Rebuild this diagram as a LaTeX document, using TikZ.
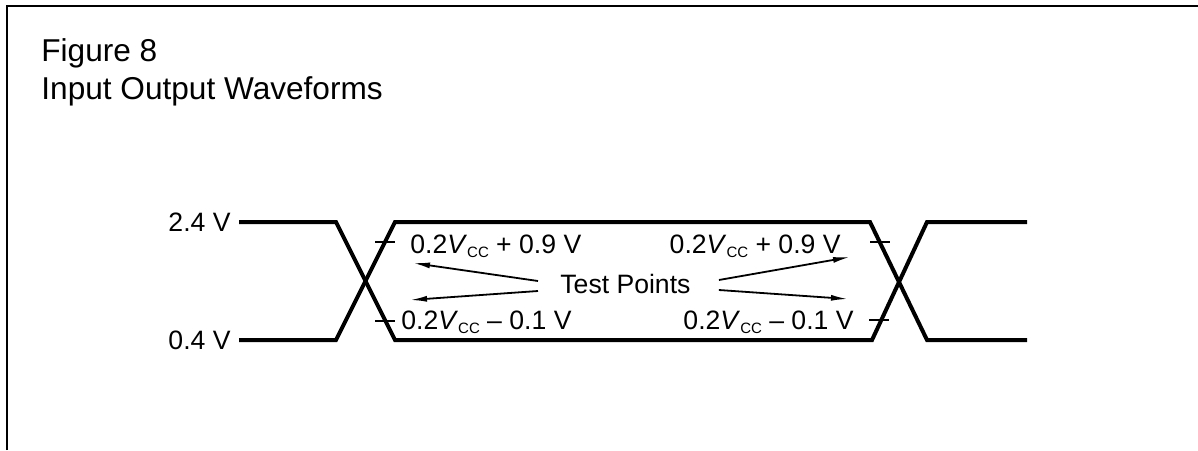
\documentclass[tikz,border=0pt]{standalone}
\usepackage{fontspec}
\setmainfont{Liberation Sans}
\usetikzlibrary{arrows.meta}
\newcommand{\vcc}{\textit{V}\raisebox{-0.3ex}{\fontsize{7.5}{9}\selectfont CC}}
\tikzset{
  wave/.style={line width=2pt},
  tickmark/.style={line width=1pt},
  testarrow/.style={line width=0.9pt,-{Latex[length=8.5pt,width=3pt]}},
  lbl/.style={inner sep=0pt,font=\fontsize{13.3}{16}\selectfont},
  ttl/.style={inner sep=0pt,anchor=base west,font=\fontsize{15.8}{19}\selectfont},
}
\begin{document}
\begin{tikzpicture}[x=0.5pt,y=-0.5pt]
\useasboundingbox (0,0) rectangle (1198,450);
\draw[line width=1.2pt] (7,450) -- (7,6) -- (1198,6);%
\node[ttl] (fig) at (41,61) {Figure 8};%
\node[ttl] (title) at (41,99) {Input Output Waveforms};%
\begin{scope}[wave]
\draw (239,222) -- (336,222) -- (395,340) -- (872,340) -- (927,222) -- (1027,222);%
\draw (239,340) -- (336,340) -- (395,222) -- (870,222) -- (927,340) -- (1027,340);%
\end{scope}
\draw[tickmark] (375,242) -- (395,242);%
\draw[tickmark] (375,321) -- (395,321);%
\draw[tickmark] (870,242) -- (890,242);%
\draw[tickmark] (869,320) -- (889,320);%
\node[lbl,anchor=east] (vhi) at (231,222) {2.4 V};%
\node[lbl,anchor=east] (vlo) at (231,340) {0.4 V};%
\node[lbl,anchor=base west] (lhi) at (410,253) {0.2\vcc{} + 0.9 V};%
\node[lbl,anchor=base west] (llo) at (401,329) {0.2\vcc{} \textendash{} 0.1 V};%
\node[lbl,anchor=base east] (rhi) at (841,253) {0.2\vcc{} + 0.9 V};%
\node[lbl,anchor=base east] (rlo) at (854,329) {0.2\vcc{} \textendash{} 0.1 V};%
\node[lbl,anchor=west] (tp) at (560,284) {Test Points};%
\coordinate (lu) at (413,263);%
\coordinate (ll) at (410,300);%
\coordinate (ru) at (850,257);%
\coordinate (rl) at (848,299);%
\draw[testarrow] ([shift={(-22,-3)}]tp.west) -- (lu);%
\draw[testarrow] ([shift={(-22,7)}]tp.west) -- (ll);%
\draw[testarrow] ([shift={(28,-4)}]tp.east) -- (ru);%
\draw[testarrow] ([shift={(28,6)}]tp.east) -- (rl);%
\end{tikzpicture}
\end{document}
